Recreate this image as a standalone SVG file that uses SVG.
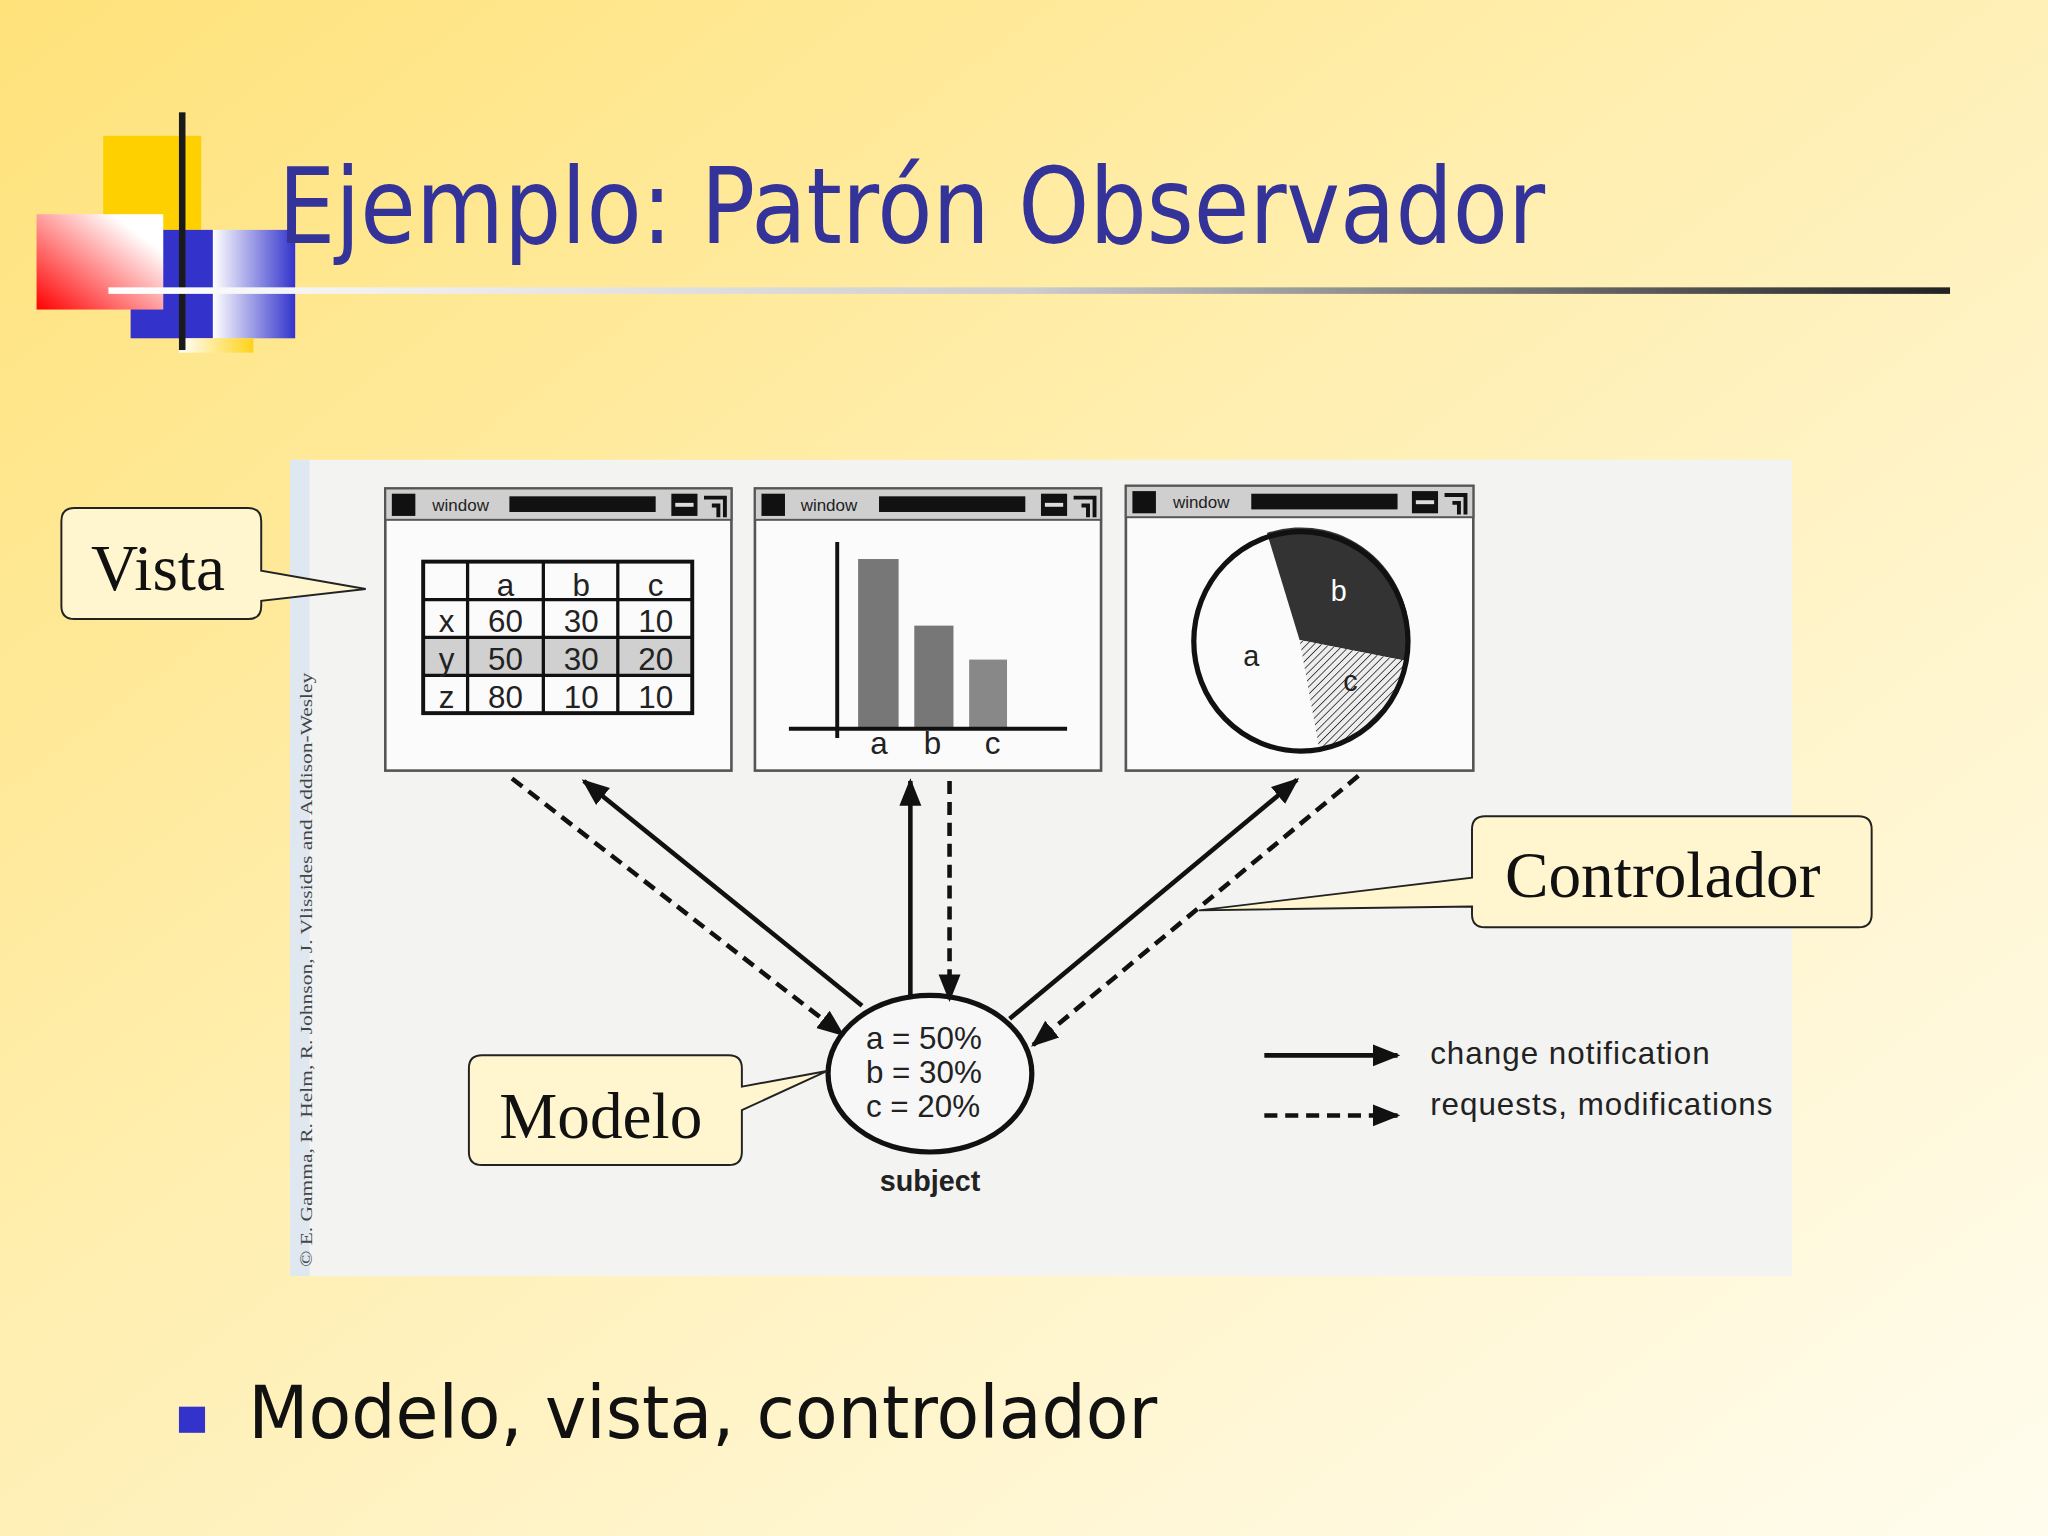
<svg xmlns="http://www.w3.org/2000/svg" width="2048" height="1536" viewBox="0 0 2048 1536">
<defs>
<linearGradient id="bg" x1="0" y1="0" x2="1" y2="1"><stop offset="0" stop-color="#ffe27a"/><stop offset="0.6" stop-color="#fff3c4"/><stop offset="1" stop-color="#fffcee"/></linearGradient>
<linearGradient id="red" x1="1" y1="0" x2="0" y2="1"><stop offset="0.2" stop-color="#fff"/><stop offset="1" stop-color="#f00"/></linearGradient>
<linearGradient id="blu" x1="0" y1="0" x2="1" y2="0"><stop offset="0" stop-color="#fff"/><stop offset="1" stop-color="#3333cc"/></linearGradient>
<linearGradient id="yel" x1="0" y1="0" x2="1" y2="0"><stop offset="0" stop-color="#fff"/><stop offset="1" stop-color="#ffd21a"/></linearGradient>
<linearGradient id="ln" x1="0" y1="0" x2="1" y2="0"><stop offset="0" stop-color="#fff"/><stop offset="0.5" stop-color="#ccc"/><stop offset="1" stop-color="#222"/></linearGradient>
<pattern id="hatch" width="4" height="4" patternUnits="userSpaceOnUse" patternTransform="rotate(45)"><rect width="4" height="4" fill="#eee"/><line x1="0" y1="0" x2="0" y2="4" stroke="#333" stroke-width="1.3"/></pattern>
<marker id="ah" viewBox="0 0 10 10" refX="9" refY="5" markerWidth="6" markerHeight="6" orient="auto"><path d="M0,1 L10,5 L0,9 Z" fill="#111"/></marker>
<style>
.win{fill:#fbfbfb;stroke:#555;stroke-width:2}
.tb{fill:#cfcfcf;stroke:#555;stroke-width:1.5}
.s{stroke:#111;stroke-width:3.5;fill:none}
.d{stroke:#111;stroke-width:3.5;fill:none;stroke-dasharray:10 6}
.h{font-family:"Liberation Sans",Arial,sans-serif;fill:#222}
.cal{fill:#fff6d0;stroke:#222;stroke-width:1.5}
.ct{font-family:"Liberation Serif","Times New Roman",serif;font-size:50px;fill:#111;text-anchor:middle}
</style>
</defs>
<rect width="2048" height="1536" fill="url(#bg)"/>
<g transform="scale(1.30612)">
<g id="logo">
<rect x="79" y="104" width="75" height="72" fill="#ffd000"/>
<rect x="100" y="176" width="63" height="83" fill="#3333cc"/>
<rect x="163" y="176" width="63" height="83" fill="url(#blu)"/>
<rect x="137" y="259" width="57" height="11" fill="url(#yel)"/>
<rect x="28" y="164" width="97" height="73" fill="url(#red)"/>
<rect x="137" y="86" width="5" height="182" fill="#1a1a1a"/>
<rect x="83" y="220" width="1410" height="5" fill="url(#ln)"/>
</g>
<text x="213" y="186" font-family="DejaVu Sans,Verdana,sans-serif" font-size="80" fill="#333399" textLength="970" lengthAdjust="spacingAndGlyphs">Ejemplo: Patrón Observador</text>
<g id="panel">
<rect x="222" y="352" width="1150" height="625" fill="#f3f3f1"/>
<rect x="222" y="352" width="15" height="625" fill="#dfe8f0"/>
<text transform="translate(239,970) rotate(-90)" font-family="Liberation Serif,serif" font-size="13.5" fill="#444" textLength="455" lengthAdjust="spacingAndGlyphs">© E. Gamma, R. Helm, R. Johnson, J. Vlissides and Addison-Wesley</text>
</g>
<g id="window1">
<rect class="win" x="295" y="374" width="265" height="216"/>
<rect class="tb" x="295" y="374" width="265" height="24"/>
<rect x="300" y="378" width="18" height="17" fill="#111"/>
<text class="h" x="331" y="391" font-size="13">window</text>
<rect x="390" y="380" width="112" height="12" fill="#111"/>
<rect x="514" y="378" width="20" height="17" fill="#111"/><rect x="517" y="385" width="14" height="3" fill="#ddd"/>
<path d="M539,381 H555 V396 M545,387 H550 V396" stroke="#111" stroke-width="3" fill="none"/>
<rect x="324" y="488" width="206" height="29" fill="#d0d0d0"/>
<rect x="324" y="430" width="206" height="116" fill="none" stroke="#111" stroke-width="3"/>
<path d="M324,459H530M324,488H530M324,517H530M358,430V546M416,430V546M473,430V546" stroke="#111" stroke-width="2.5"/>
<g class="h" font-size="24" text-anchor="middle">
<text x="387" y="456">a</text><text x="445" y="456">b</text><text x="502" y="456">c</text>
<text x="342" y="484">x</text><text x="387" y="484">60</text><text x="445" y="484">30</text><text x="502" y="484">10</text>
<text x="342" y="513">y</text><text x="387" y="513">50</text><text x="445" y="513">30</text><text x="502" y="513">20</text>
<text x="342" y="542">z</text><text x="387" y="542">80</text><text x="445" y="542">10</text><text x="502" y="542">10</text>
</g>
</g>
<g id="window2">
<rect class="win" x="578" y="374" width="265" height="216"/>
<rect class="tb" x="578" y="374" width="265" height="24"/>
<rect x="583" y="378" width="18" height="17" fill="#111"/>
<text class="h" x="613" y="391" font-size="13">window</text>
<rect x="673" y="380" width="112" height="12" fill="#111"/>
<rect x="797" y="378" width="20" height="17" fill="#111"/><rect x="800" y="385" width="14" height="3" fill="#ddd"/>
<path d="M822,381 H838 V396 M828,387 H833 V396" stroke="#111" stroke-width="3" fill="none"/>
<rect x="657" y="428" width="31" height="130" fill="#777"/>
<rect x="700" y="479" width="30" height="79" fill="#777"/>
<rect x="742" y="505" width="29" height="53" fill="#888"/>
<path d="M641,415V565M604,558H817" stroke="#111" stroke-width="3"/>
<g class="h" font-size="24" text-anchor="middle"><text x="673" y="577">a</text><text x="714" y="577">b</text><text x="760" y="577">c</text></g>
</g>
<g id="window3">
<rect class="win" x="862" y="372" width="266" height="218"/>
<rect class="tb" x="862" y="372" width="266" height="24"/>
<rect x="867" y="376" width="18" height="17" fill="#111"/>
<text class="h" x="898" y="389" font-size="13">window</text>
<rect x="958" y="378" width="112" height="12" fill="#111"/>
<rect x="1081" y="376" width="20" height="17" fill="#111"/><rect x="1084" y="383" width="14" height="3" fill="#ddd"/>
<path d="M1106,379 H1122 V394 M1112,385 H1117 V394" stroke="#111" stroke-width="3" fill="none"/>
<path d="M995,490 L970,408 A83,84 0 0 1 1077,506 Z" fill="#333"/>
<path d="M995,490 L1077,506 A83,84 0 0 1 1010,573 Z" fill="url(#hatch)"/>
<ellipse cx="996" cy="491" rx="82" ry="84" fill="none" stroke="#111" stroke-width="4"/>
<g class="h" font-size="22" text-anchor="middle"><text x="1025" y="460" fill="#fff">b</text><text x="958" y="510">a</text><text x="1034" y="529">c</text></g>
</g>
<g id="subject">
<ellipse cx="712" cy="822" rx="78" ry="60" fill="#f7f7f7" stroke="#111" stroke-width="4"/>
<g class="h" font-size="24"><text x="663" y="803">a = 50%</text><text x="663" y="829">b = 30%</text><text x="663" y="855">c = 20%</text></g>
<text class="h" x="712" y="912" font-size="22" font-weight="bold" text-anchor="middle">subject</text>
</g>
<g id="connectors">
<line class="s" x1="660" y1="770" x2="447" y2="598" marker-end="url(#ah)"/>
<line class="d" x1="392" y1="596" x2="645" y2="792" marker-end="url(#ah)"/>
<line class="s" x1="697" y1="765" x2="697" y2="598" marker-end="url(#ah)"/>
<line class="d" x1="727" y1="598" x2="727" y2="765" marker-end="url(#ah)"/>
<line class="s" x1="773" y1="780" x2="993" y2="597" marker-end="url(#ah)"/>
<line class="d" x1="1040" y1="594" x2="791" y2="800" marker-end="url(#ah)"/>
<line class="s" x1="968" y1="808" x2="1070" y2="808" marker-end="url(#ah)"/>
<line class="d" x1="968" y1="854" x2="1070" y2="854" marker-end="url(#ah)"/>
</g>
<g id="legend" class="h" font-size="24" fill="#333">
<text x="1095" y="815" textLength="214">change notification</text>
<text x="1095" y="854" textLength="262">requests, modifications</text>
</g>
<g id="vista">
<path class="cal" d="M57,389 H190 Q200,389 200,399 V437 L280,451 L200,460 V464 Q200,474 190,474 H57 Q47,474 47,464 V399 Q47,389 57,389 Z"/>
<text class="ct" x="121" y="452">Vista</text>
</g>
<g id="controlador">
<path class="cal" d="M1137,625 H1423 Q1433,625 1433,635 V700 Q1433,710 1423,710 H1137 Q1127,710 1127,700 V694 L918,697 L1127,672 V635 Q1127,625 1137,625 Z"/>
<text class="ct" x="1273" y="687">Controlador</text>
</g>
<g id="modelo">
<path class="cal" d="M369,808 H558 Q568,808 568,818 V832 L633,820 L568,850 V882 Q568,892 558,892 H369 Q359,892 359,882 V818 Q359,808 369,808 Z"/>
<text class="ct" x="460" y="871">Modelo</text>
</g>
<rect x="137" y="1077" width="20" height="20" fill="#3333cc"/>
<text x="190" y="1101" font-family="DejaVu Sans,Verdana,sans-serif" font-size="56" fill="#111" textLength="696" lengthAdjust="spacingAndGlyphs">Modelo, vista, controlador</text>
</g>
</svg>
